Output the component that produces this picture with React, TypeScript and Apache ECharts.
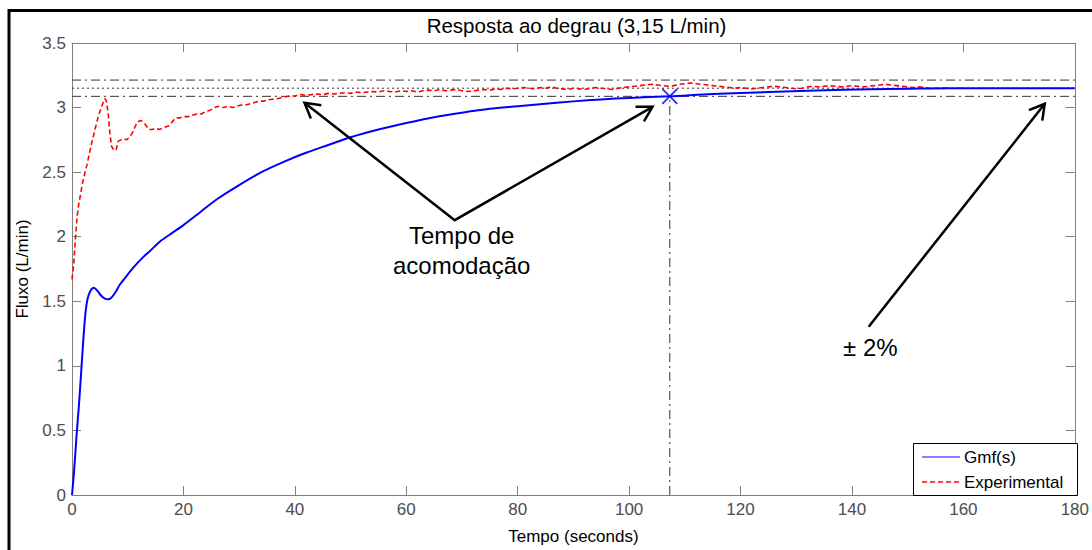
import React, { useEffect, useRef } from "react";
import * as echarts from "echarts";

// ---- data ----
const modelTime = [
  0, 0.4, 0.8, 1.2, 1.6, 2.0, 2.4, 2.8, 3.3, 3.9, 4.5, 5.2, 5.9, 6.5, 7.1, 7.8, 8.6, 9.5,
  11, 12.5, 14, 16, 18, 20, 23, 26, 30, 34, 38, 42, 46, 50, 55, 60, 65, 70, 75, 80, 85,
  90, 95, 100, 107.3, 115, 125, 133.6, 143.4, 150, 157, 165, 180,
];
const modelFlux = [
  0, 0.2, 0.45, 0.67, 0.92, 1.18, 1.4, 1.52, 1.58, 1.605, 1.585, 1.545, 1.52, 1.515, 1.53,
  1.57, 1.63, 1.68, 1.76, 1.83, 1.89, 1.97, 2.03, 2.09, 2.19, 2.29, 2.4, 2.5, 2.58, 2.65,
  2.71, 2.77, 2.83, 2.88, 2.925, 2.96, 2.99, 3.01, 3.03, 3.048, 3.063, 3.075, 3.087, 3.105,
  3.12, 3.132, 3.142, 3.146, 3.15, 3.15, 3.15,
];

const expTime = [
  0, 0.3, 0.6, 0.9, 1.2, 1.5, 1.9, 2.3, 2.7, 3.1, 3.5, 3.9, 4.3, 4.7, 5.1, 5.5, 5.9, 6.2,
  6.5, 6.8, 7.1, 7.5, 7.9, 8.3, 8.8, 9.3, 9.8, 10.3, 10.8, 11.3, 11.8, 12.3, 12.8, 13.3,
  13.8, 14.4, 15.0, 15.6, 16.2, 16.8, 17.4, 18.0, 18.6, 19.3, 20.0, 20.8, 21.6, 22.4, 23.2,
  24.0, 24.8, 25.6, 26.4, 27.2, 28.0, 28.8, 29.6, 30.4, 31.2, 32.0, 32.8, 33.6, 34.4, 35.2,
  36, 37, 38, 39, 40, 41, 42, 43, 44, 45, 46, 47, 48, 49, 50, 51, 52, 53, 54, 55, 56, 57,
  58, 59, 60, 61, 62, 63, 64, 65, 66, 67, 68, 69, 70, 71, 72, 73, 74, 75, 76, 77, 78, 79,
  80, 81, 82, 83, 84, 85, 86, 87, 88, 89, 90, 91, 92, 93, 94, 95, 96, 97, 98, 99, 100, 101,
  102, 103, 104, 105, 106, 107, 108, 109, 110, 111, 112, 113, 114, 115, 116, 117, 118, 119,
  120, 121, 122, 123, 124, 125, 126, 127, 128, 129, 130, 131, 132, 133, 134, 135, 136, 137,
  138, 139, 140, 141, 142, 143, 144, 145, 146, 147, 148, 149, 150, 151, 152, 153, 154, 155,
  156, 157,
];
const expFlux = [
  1.67, 1.78, 1.98, 2.15, 2.25, 2.32, 2.42, 2.49, 2.56, 2.64, 2.72, 2.79, 2.86, 2.93, 2.98,
  3.03, 3.07, 3.05, 2.95, 2.8, 2.7, 2.67, 2.67, 2.74, 2.75, 2.76, 2.75, 2.77, 2.8, 2.85,
  2.89, 2.9, 2.89, 2.86, 2.83, 2.83, 2.84, 2.83, 2.84, 2.85, 2.86, 2.89, 2.92, 2.92, 2.93,
  2.93, 2.94, 2.95, 2.95, 2.97, 2.98, 3.0, 3.01, 3.0, 3.01, 3.0, 3.01, 3.02, 3.02, 3.03,
  3.04, 3.05, 3.05, 3.06, 3.065, 3.07, 3.08, 3.09, 3.09, 3.1, 3.095, 3.1, 3.105, 3.1, 3.11,
  3.105, 3.11, 3.115, 3.11, 3.12, 3.115, 3.12, 3.125, 3.12, 3.13, 3.125, 3.12, 3.13, 3.125,
  3.13, 3.12, 3.13, 3.135, 3.13, 3.14, 3.13, 3.135, 3.14, 3.13, 3.125, 3.13, 3.135, 3.14,
  3.135, 3.145, 3.14, 3.15, 3.145, 3.15, 3.155, 3.15, 3.145, 3.155, 3.15, 3.16, 3.15, 3.145,
  3.14, 3.15, 3.145, 3.14, 3.15, 3.155, 3.15, 3.145, 3.14, 3.15, 3.155, 3.16, 3.165, 3.17,
  3.175, 3.18, 3.175, 3.17, 3.165, 3.17, 3.18, 3.185, 3.19, 3.185, 3.18, 3.175, 3.17, 3.165,
  3.16, 3.155, 3.15, 3.155, 3.15, 3.145, 3.15, 3.155, 3.16, 3.165, 3.16, 3.155, 3.15, 3.145,
  3.15, 3.16, 3.165, 3.16, 3.165, 3.17, 3.165, 3.16, 3.165, 3.17, 3.165, 3.16, 3.165, 3.17,
  3.175, 3.18, 3.175, 3.17, 3.165, 3.16, 3.155, 3.16, 3.155, 3.15, 3.15, 3.148, 3.15,
];

const setpoint = 3.15;
const bandUpper = 3.213;
const bandLower = 3.087;
const settlingTime = 107.3;
const settlingFlux = 3.087;
const xMin = 0;
const xMax = 180;
const xStep = 20;
const yMin = 0;
const yMax = 3.5;
const yStep = 0.5;

const legendNames = ["Gmf(s)", "Experimental"];

// annotations (data coordinates)
const arrowVertex = [68.7, 2.128];
const arrowTips = [
  [41.73, 3.037],
  [104.2, 3.006],
];
const bandArrowFrom = [143.0, 1.303];
const bandArrowTo = [174.6, 3.029];
const settlingLabel = "Tempo de\nacomodação";
const settlingLabelAt = [69.95, 1.891];
const bandLabel = "± 2%";
const bandLabelAt = [143.3, 1.142];

const FONT = '"Liberation Sans", Arial, Helvetica, sans-serif';
const dashDot = [9, 4, 2, 4];
const redDash = [5, 3];
const BLUE = "#0000ff";
const RED = "#ff0000";

export default function App() {
  const ref = useRef<HTMLDivElement>(null);

  useEffect(() => {
    const el = ref.current!;
    const chart = echarts.init(el, null, { renderer: "svg" });

    const axisCommon = {
      min: xMin,
      max: xMax,
      interval: xStep,
      axisLine: { show: true, onZero: false, lineStyle: { color: "#808080", width: 1 } },
      axisTick: { show: true, inside: true, length: 9, lineStyle: { color: "#808080" } },
      splitLine: { show: false },
    };
    const yCommon = {
      min: yMin,
      max: yMax,
      interval: yStep,
      axisLine: { show: true, onZero: false, lineStyle: { color: "#808080", width: 1 } },
      axisTick: { show: true, inside: true, length: 9, lineStyle: { color: "#808080" } },
      splitLine: { show: false },
    };

    const option: any = {
      animation: false,
      backgroundColor: "#ffffff",
      textStyle: { fontFamily: FONT },
      grid: { left: 72, right: 11, top: 43, bottom: 49, containLabel: false },
      xAxis: [
        {
          ...axisCommon,
          type: "value",
          position: "bottom",
          name: "Tempo (seconds)",
          nameLocation: "middle",
          nameGap: 33,
          nameTextStyle: { fontSize: 17, color: "#000", fontFamily: FONT },
          axisLabel: { show: true, fontSize: 17, color: "#4d4d4d", margin: 6, fontFamily: FONT },
        },
        {
          ...axisCommon,
          type: "value",
          position: "top",
          axisLabel: { show: false },
        },
      ],
      yAxis: [
        {
          ...yCommon,
          type: "value",
          position: "left",
          name: "Fluxo (L/min)",
          nameLocation: "middle",
          nameGap: 37,
          nameTextStyle: { fontSize: 17, color: "#000", fontFamily: FONT },
          axisLabel: { show: true, fontSize: 17, color: "#4d4d4d", margin: 6, fontFamily: FONT },
        },
        {
          ...yCommon,
          type: "value",
          position: "right",
          axisLabel: { show: false },
        },
      ],
      series: [
        {
          name: "upper",
          type: "line",
          data: [
            [xMin, bandUpper],
            [xMax, bandUpper],
          ],
          symbol: "none",
          silent: true,
          lineStyle: { color: "#333", width: 1, type: dashDot },
          z: 1,
        },
        {
          name: "setpoint",
          type: "line",
          data: [
            [xMin, setpoint],
            [xMax, setpoint],
          ],
          symbol: "none",
          silent: true,
          lineStyle: { color: "#333", width: 1, type: [2, 3] },
          z: 1,
        },
        {
          name: "lower",
          type: "line",
          data: [
            [xMin, bandLower],
            [xMax, bandLower],
          ],
          symbol: "none",
          silent: true,
          lineStyle: { color: "#333", width: 1, type: dashDot },
          z: 1,
        },
        {
          name: "settling",
          type: "line",
          data: [
            [settlingTime, yMin],
            [settlingTime, settlingFlux],
          ],
          symbol: "none",
          silent: true,
          lineStyle: { color: "#333", width: 1, type: dashDot },
          z: 1,
        },
        {
          name: legendNames[1],
          type: "line",
          data: expTime.map((t, i) => [t, expFlux[i]]),
          symbol: "none",
          lineStyle: { color: RED, width: 1.6, type: redDash },
          itemStyle: { color: RED },
          z: 2,
        },
        {
          name: legendNames[0],
          type: "line",
          data: modelTime.map((t, i) => [t, modelFlux[i]]),
          symbol: "none",
          smooth: 0.3,
          lineStyle: { color: BLUE, width: 2 },
          itemStyle: { color: BLUE },
          z: 3,
        },
        {
          name: "marker",
          type: "scatter",
          data: [[settlingTime, settlingFlux]],
          symbol: "path://M0,0L10,10M10,0L0,10",
          symbolSize: 15,
          itemStyle: { color: "none", borderColor: BLUE, borderWidth: 2 },
          z: 4,
        },
      ],
    };

    chart.setOption(option);

    const px = (p: number[]) => chart.convertToPixel({ seriesIndex: 5 }, p) as number[];
    const head = (from: number[], tip: number[]) => {
      const dx = tip[0] - from[0];
      const dy = tip[1] - from[1];
      const len = Math.hypot(dx, dy);
      const ux = dx / len;
      const uy = dy / len;
      const L = 17;
      const a = (30 * Math.PI) / 180;
      const rot = (ang: number) => [
        tip[0] - L * (ux * Math.cos(ang) - uy * Math.sin(ang)),
        tip[1] - L * (ux * Math.sin(ang) + uy * Math.cos(ang)),
      ];
      return [rot(a), tip, rot(-a)];
    };

    const v = px(arrowVertex);
    const t1 = px(arrowTips[0]);
    const t2 = px(arrowTips[1]);
    const bf = px(bandArrowFrom);
    const bt = px(bandArrowTo);
    const l1 = px(settlingLabelAt);
    const l2 = px(bandLabelAt);
    const [gx, gy, gw] = [72, 43, 1009];

    const stroke = { stroke: "#000", lineWidth: 2.5, fill: "none", lineJoin: "miter" };

    // legend box (MATLAB style)
    const lgX = 913;
    const lgY = 443;
    const lgW = 164;
    const lgH = 52;
    const rowY = [lgY + 14, lgY + 39];
    const legendItems: any[] = [
      {
        type: "rect",
        silent: true,
        shape: { x: lgX + 0.5, y: lgY + 0.5, width: lgW, height: lgH },
        style: { fill: "#fff", stroke: "#000", lineWidth: 1 },
        z: 20,
      },
    ];
    legendNames.forEach((name, i) => {
      legendItems.push({
        type: "line",
        silent: true,
        shape: { x1: lgX + 9, y1: rowY[i], x2: lgX + 47, y2: rowY[i] },
        style: {
          stroke: i === 0 ? BLUE : RED,
          lineWidth: i === 0 ? 1.2 : 1.6,
          lineDash: i === 0 ? null : [5, 3],
        },
        z: 21,
      });
      legendItems.push({
        type: "text",
        silent: true,
        x: lgX + 51,
        y: rowY[i],
        style: {
          text: name,
          fill: "#000",
          fontSize: 17,
          fontFamily: FONT,
          align: "left",
          verticalAlign: "middle",
        },
        z: 21,
      });
    });

    chart.setOption({
      graphic: [
        {
          type: "rect",
          silent: true,
          shape: { x: 9, y: 10.5, width: 2000, height: 2000 },
          style: { fill: "none", stroke: "#000", lineWidth: 3 },
        },
        {
          type: "text",
          silent: true,
          x: gx + gw / 2,
          y: gy - 18,
          style: {
            text: "Resposta ao degrau (3,15 L/min)",
            fill: "#000",
            fontSize: 20.5,
            fontFamily: FONT,
            align: "center",
            verticalAlign: "middle",
          },
        },
        { type: "polyline", silent: true, shape: { points: [t1, v, t2] }, style: stroke, z: 10 },
        { type: "polyline", silent: true, shape: { points: head(v, t1) }, style: stroke, z: 10 },
        { type: "polyline", silent: true, shape: { points: head(v, t2) }, style: stroke, z: 10 },
        { type: "polyline", silent: true, shape: { points: [bf, bt] }, style: stroke, z: 10 },
        { type: "polyline", silent: true, shape: { points: head(bf, bt) }, style: stroke, z: 10 },
        {
          type: "text",
          silent: true,
          x: l1[0],
          y: l1[1],
          z: 10,
          style: {
            text: settlingLabel,
            fill: "#000",
            fontSize: 24,
            lineHeight: 30,
            fontFamily: FONT,
            align: "center",
            verticalAlign: "middle",
          },
        },
        {
          type: "text",
          silent: true,
          x: l2[0],
          y: l2[1],
          z: 10,
          style: {
            text: bandLabel,
            fill: "#000",
            fontSize: 24,
            fontFamily: FONT,
            align: "center",
            verticalAlign: "middle",
          },
        },
        ...legendItems,
      ],
    });

    return () => chart.dispose();
  }, []);

  return (
    <div
      ref={ref}
      style={{ position: "fixed", left: 0, top: 0, width: 1092, height: 550, background: "#fff" }}
    />
  );
}
